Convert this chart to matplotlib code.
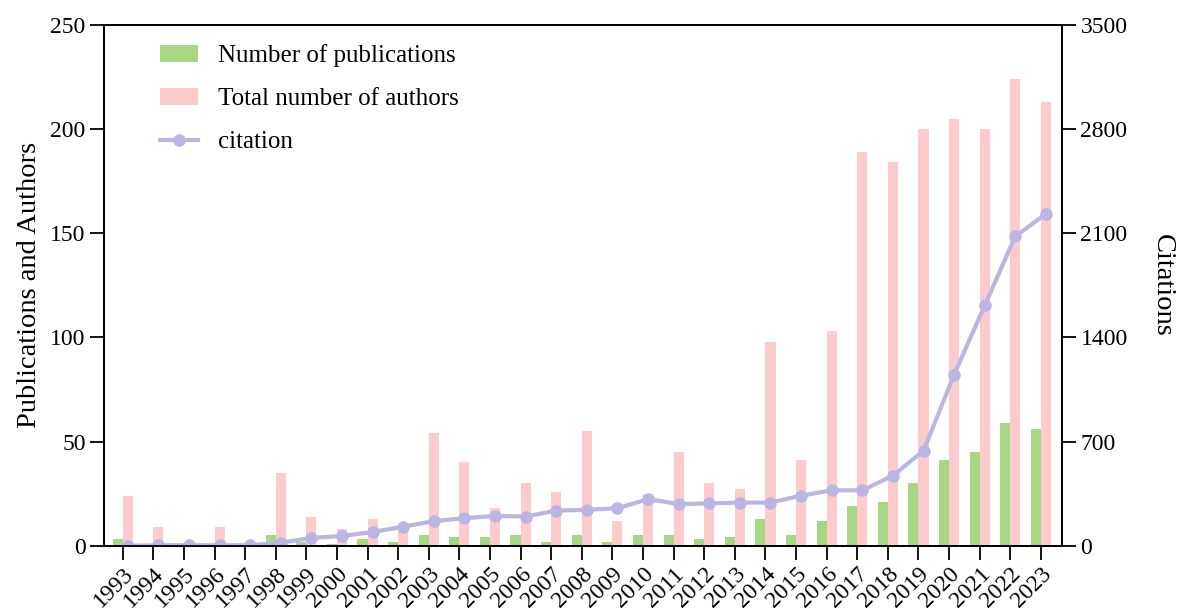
import matplotlib.pyplot as plt
import numpy as np

plt.rcParams['font.family'] = ['Liberation Serif', 'DejaVu Serif']

years = list(range(1993, 2024))
publications = [3, 0, 0, 0, 0, 5, 2, 1, 3, 2, 5, 4, 4, 5, 2, 5, 2, 5, 5, 3,
                4, 13, 5, 12, 19, 21, 30, 41, 45, 59, 56]
authors = [24, 9, 0, 9, 0, 35, 14, 8, 13, 9, 54, 40, 18, 30, 26, 55, 12, 25, 45, 30,
           27, 98, 41, 103, 189, 184, 200, 205, 200, 224, 213]
citations = [0, 3, 3, 3, 3, 20, 52, 65, 92, 128, 165, 185, 200, 196, 236, 241, 252, 313, 280, 284,
             290, 290, 336, 372, 372, 471, 638, 1150, 1615, 2080, 2230]

green = '#A7D784'
pink = '#FDCBCB'
purple = '#BAB5E2'

fig = plt.figure(figsize=(11.79, 6.13), dpi=100)
ax = fig.add_axes([0.0885, 0.1098, 0.812, 0.8494])
ax2 = ax.twinx()

x = np.arange(len(years))
w = 0.33
b1 = ax.bar(x - w / 2, publications, width=w, color=green, label='Number of publications')
b2 = ax.bar(x + w / 2, authors, width=w, color=pink, label='Total number of authors')
l1, = ax2.plot(x + w / 2, citations, '-o', color=purple, lw=3, ms=8, label='citation')

ax.set_xlim(-0.6, 30.68)
ax.set_ylim(0, 250)
ax2.set_ylim(0, 3500)
ax.set_yticks(range(0, 251, 50))
ax2.set_yticks(range(0, 3501, 700))
ax.set_xticks(x)
ax.set_xticklabels([str(y) for y in years], rotation=45, ha='right', rotation_mode='anchor',
                   fontsize=17)

for a in (ax, ax2):
    for s in a.spines.values():
        s.set_linewidth(1.3)
ax.tick_params(axis='y', labelsize=17, length=10, width=1.3)
ax2.tick_params(axis='y', labelsize=17, length=10, width=1.3)
ax.tick_params(axis='x', length=10, width=1.3, pad=3)

ax.set_ylabel('Publications and Authors', fontsize=20.5, labelpad=6)
ax2.set_ylabel('Citations', fontsize=20.5, rotation=270, labelpad=34)

ax2.legend(handles=[b1, b2, l1], loc='upper left', bbox_to_anchor=(0.035, 1.006),
           frameon=False, fontsize=18, labelspacing=0.82, handlelength=1.5, handletextpad=0.8)

fig.savefig('out.png', dpi=100)
